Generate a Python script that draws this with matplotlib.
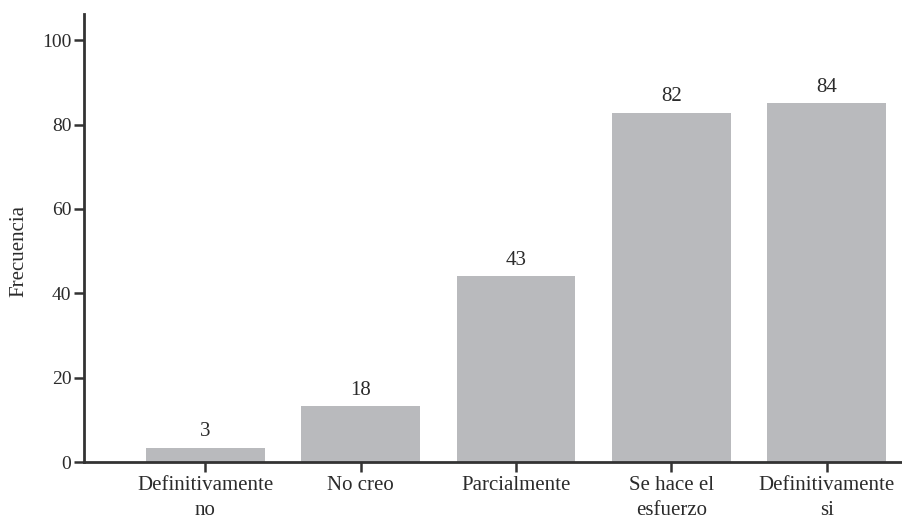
import matplotlib
matplotlib.use("Agg")
import matplotlib.pyplot as plt

categories = ["Definitivamente\nno", "No creo", "Parcialmente", "Se hace el\nesfuerzo", "Definitivamente\nsi"]
bar_heights = [3.4, 13.3, 44.0, 82.8, 85.0]
value_labels = ["3", "18", "43", "82", "84"]
yticks = [0, 20, 40, 60, 80, 100]

plt.rcParams['font.family'] = ['Liberation Serif', 'DejaVu Serif']
axis_color = "#333333"
text_color = "#2b2b2b"

fig = plt.figure(figsize=(9.03, 5.20), dpi=100)
ax = fig.add_axes([0.093, 0.1115, 0.907, 0.8615])

x = list(range(len(categories)))
ax.bar(x, bar_heights, width=0.765, color="#b9babd", zorder=2)
for xi, h, lab in zip(x, bar_heights, value_labels):
    ax.text(xi, h + 1.5, lab, ha="center", va="bottom", fontsize=15, color=text_color)

ax.set_xlim(-0.78, 4.49)
ax.set_ylim(0, 106.2)
ax.set_yticks(yticks)
ax.set_xticks(x)
ax.set_xticklabels(categories, fontsize=15, color=text_color, linespacing=1.45)
ax.tick_params(axis="y", labelsize=14, labelcolor=text_color, length=7, width=1.8, color=axis_color, pad=2)
ax.tick_params(axis="x", length=7, width=1.8, color=axis_color, pad=3)

for s in ["top", "right"]:
    ax.spines[s].set_visible(False)
for s in ["left", "bottom"]:
    ax.spines[s].set_linewidth(2.0)
    ax.spines[s].set_color(axis_color)

ax.set_ylabel("Frecuencia", fontsize=15, color=text_color)
ax.yaxis.set_label_coords(-0.068, 0.47)

fig.savefig("out.png", dpi=100)
